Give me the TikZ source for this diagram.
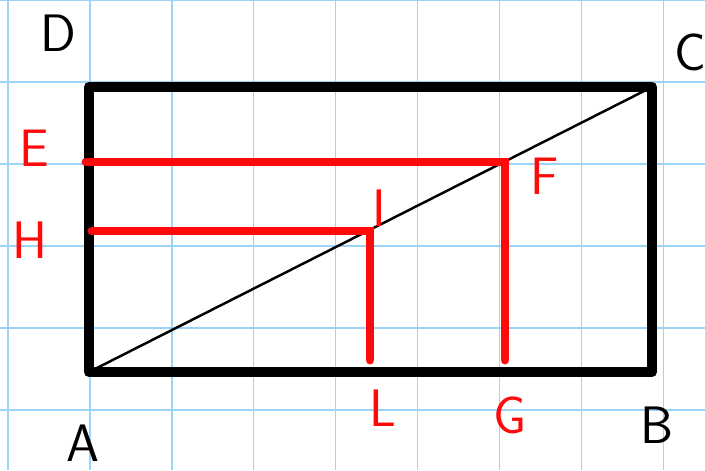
\documentclass[tikz,border=0pt]{standalone}
\usepackage{tikz}

\definecolor{quadricula}{RGB}{155,212,246}
\definecolor{vermell}{RGB}{255,10,10}

\tikzset{
    lletra/.style={font=\sffamily\fontsize{30}{30}\selectfont, inner sep=0pt},
    vora/.style={line width=5.7pt, line join=round, line cap=round, black},
    traç/.style={line width=5.1pt, line cap=round, vermell}
}

\begin{document}
\begin{tikzpicture}[x=0.02cm, y=-0.02cm]
    \useasboundingbox (0,0) rectangle (705,470);
    \fill[white] (0,0) rectangle (705,470);

    % QUADRÍCULA DEL FULL
    \foreach \i in {0,...,8} {
        \draw[quadricula, line width=0.8pt] ({8+81.9*\i}, 0) -- ({8+81.9*\i}, 470);
    }
    \foreach \j in {0,...,5} {
        \draw[quadricula, line width=0.8pt] (0, {82*\j}) -- (705, {82*\j});
    }

    % VÈRTEXS DEL RECTANGLE
    \coordinate (A) at (89,372);
    \coordinate (B) at (652,372);
    \coordinate (C) at (652,87);
    \coordinate (D) at (89,87);

    % PUNTS DELS SEGMENTS VERMELLS
    \coordinate (E) at (86,162);
    \coordinate (F) at (505,162);
    \coordinate (G) at (505,360);
    \coordinate (H) at (92,231);
    \coordinate (I) at (370,231);
    \coordinate (L) at (370,360);

    % RECTANGLE I DIAGONAL
    \draw[vora] (A) -- (B) -- (C) -- (D) -- cycle;
    \draw[line width=1.4pt] (A) -- (C);

    % SEGMENTS VERMELLS
    \draw[traç] (E) -- (F) -- (G);
    \draw[traç] (H) -- (I) -- (L);

    % ETIQUETES
    \foreach \nom/\x/\y in {D/58/33, C/690/52, A/83/443, B/657/425} {
        \node[lletra] (lab\nom) at (\x,\y) {\nom};
    }
    \foreach \nom/\x/\y in {E/34/148, H/30/240, F/545/176, I/379/208, L/383/408, G/510/415} {
        \node[lletra, text=vermell] (lab\nom) at (\x,\y) {\nom};
    }

\end{tikzpicture}
\end{document}
